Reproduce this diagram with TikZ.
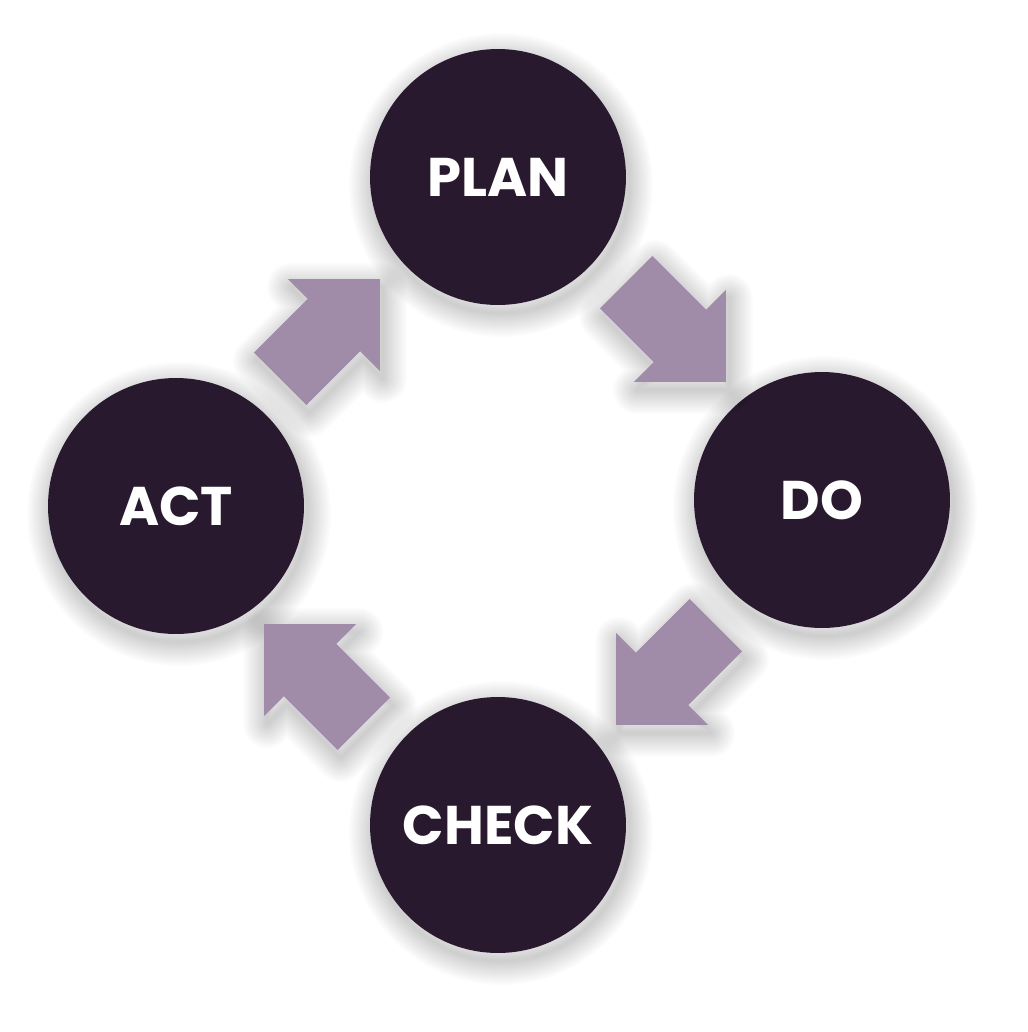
\documentclass[tikz,border=0pt]{standalone}
\usepackage{fontspec}
\setmainfont{Poppins}
\usepackage{tikz}
\usetikzlibrary{calc, backgrounds}

\definecolor{phasefill}{HTML}{28192E}
\definecolor{flowfill}{HTML}{A08BA9}

\begin{document}
\begin{tikzpicture}[
    x=0.02cm, y=-0.02cm,
    haze/.style={draw=black, draw opacity=0.013, line join=round},
    phase/.style={circle, fill=phasefill, minimum size=5.12cm, inner sep=0pt, text=white, font=\fontsize{31}{35}\selectfont\bfseries},
    flowshade/.pic={\foreach \w in {3,6,...,48} \draw[haze, line width=\w*0.2mm] (-70.5,37) -- (5.5,37) -- (5.5,65) -- (70.5,0) -- (5.5,-65) -- (5.5,-37) -- (-70.5,-37) -- cycle;},
    flow/.pic={\fill[flowfill] (-70.5,37) -- (5.5,37) -- (5.5,65) -- (70.5,0) -- (5.5,-65) -- (5.5,-37) -- (-70.5,-37) -- cycle;}
]
    \useasboundingbox (0,0) rectangle (1028,1032);

    \node (plan)  [phase] at (498,177) {PLAN};
    \node (do)    [phase] at (822,500) {DO};
    \node (check) [phase] at (498,825) {CHECK};
    \node (act)   [phase] at (176,506) {ACT};

    % soft shadows behind the circles
    \begin{scope}[on background layer]
        \fill[white] (0,0) rectangle (1028,1032);
        \foreach \n in {plan,do,check,act}
            \foreach \w in {3,6,...,48}
                \draw[haze, line width=\w*0.2mm] ($(\n)+(3,8)$) circle (128);
    \end{scope}

    % block arrows between the phases
    \foreach \from/\to/\ang/\dx/\dy in {plan/do/-45/16/-6.5, do/check/-135/6/12.5, check/act/135/-23/8.5, act/plan/45/-7/-12.5} {
        \pic[rotate=\ang] at ($(\from)!0.5!(\to)+(\dx+3,\dy+8)$) {flowshade};
        \pic[rotate=\ang] at ($(\from)!0.5!(\to)+(\dx,\dy)$) {flow};
    }
\end{tikzpicture}
\end{document}
